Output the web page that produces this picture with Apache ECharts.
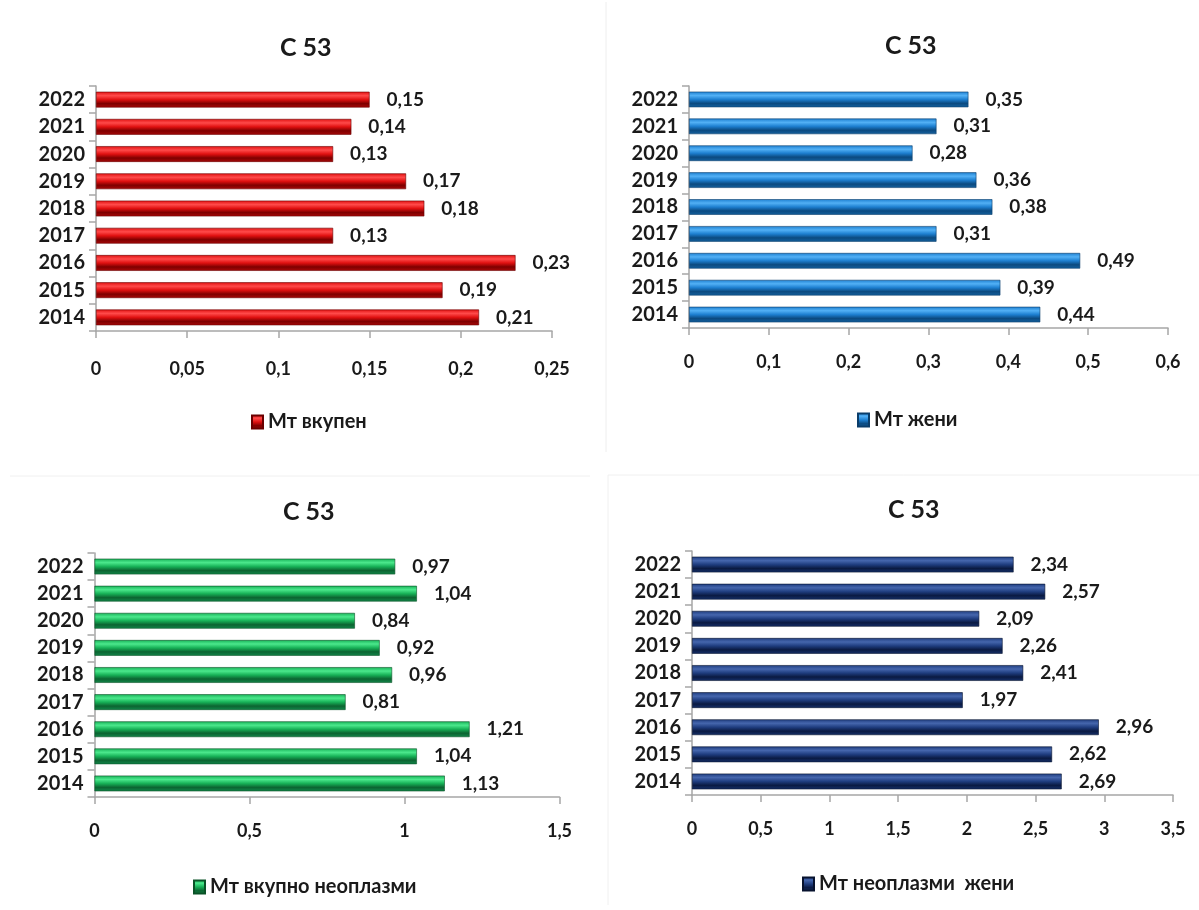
<!DOCTYPE html>
<html>
<head>
<meta charset="utf-8">
<script src="https://cdn.jsdelivr.net/npm/echarts@6/dist/echarts.min.js"></script>
<style>
html,body{margin:0;padding:0;background:#fff;}
#c{width:1199px;height:910px;}
</style>
</head>
<body>
<div id="c"></div>
<script>
const years = ['2014','2015','2016','2017','2018','2019','2020','2021','2022'];
const titleText = 'C 53';
const mtVkupen = [0.21,0.19,0.23,0.13,0.18,0.17,0.13,0.14,0.15];
const mtZheni = [0.44,0.39,0.49,0.31,0.38,0.36,0.28,0.31,0.35];
const mtVkupnoNeoplazmi = [1.13,1.04,1.21,0.81,0.96,0.92,0.84,1.04,0.97];
const mtNeoplazmiZheni = [2.69,2.62,2.96,1.97,2.41,2.26,2.09,2.57,2.34];
const seriesNames = ['Мт вкупен','Мт жени','Мт вкупно неоплазми','Мт неоплазми  жени'];
const axisMax = [0.25, 0.6, 1.5, 3.5];
const axisInterval = [0.05, 0.1, 0.5, 0.5];

const FONT = "Lato, 'Noto Sans', sans-serif";
const TXT = '#1a1a1a';
const fmt = v => String(+(+v).toFixed(3)).replace('.', ',');

function grad(c0, c1, c2, c3) {
  return new echarts.graphic.LinearGradient(0, 0, 0, 1, [
    {offset: 0, color: c0},
    {offset: 0.25, color: c1},
    {offset: 0.5, color: c0},
    {offset: 0.75, color: c2},
    {offset: 1, color: c3}
  ]);
}
const palettes = [
  grad('#e01010', '#ff4a4a', '#7e0000', '#a80808'),
  grad('#1d7fd0', '#52b0f5', '#0b4a80', '#14619f'),
  grad('#17b157', '#4be88c', '#0c6431', '#12874a'),
  grad('#1f3d7f', '#4566ad', '#0a1a42', '#16306a')
];
const edgeColors = ['#6a0000', '#0a3d6a', '#0a5227', '#07122e'];

const grids = [
  {left: 96, top: 86, width: 456, height: 245},
  {left: 689, top: 86, width: 479, height: 242},
  {left: 94.5, top: 553, width: 465, height: 244},
  {left: 692, top: 551, width: 481, height: 244}
];
const titlePos = [[300, 30], [905, 28], [303, 494], [908, 492]];
const legendPos = [[246, 407], [852, 405], [188, 872], [797, 869]];
const tickMargins = [29, 25, 25, 25];
const dataSets = [mtVkupen, mtZheni, mtVkupnoNeoplazmi, mtNeoplazmiZheni];

const option = {
  backgroundColor: '#fff',
  animation: false,
  title: titlePos.map(p => ({
    text: titleText, left: p[0] - 25, top: p[1],
    textStyle: {fontFamily: FONT, fontSize: 25, fontWeight: 'bold', color: TXT}
  })),
  legend: legendPos.map((p, i) => ({
    data: [seriesNames[i]], left: p[0], top: p[1], icon: 'rect',
    itemWidth: 11, itemHeight: 13, itemGap: 6,
    selectedMode: false,
    textStyle: {fontFamily: FONT, fontSize: 20, fontWeight: 'bold', color: TXT}
  })),
  grid: grids,
  xAxis: grids.map((g, i) => ({
    type: 'value', gridIndex: i, min: 0, max: axisMax[i], interval: axisInterval[i],
    axisLine: {show: true, lineStyle: {color: '#a6a6a6', width: 1.5}},
    axisTick: {show: true, length: 7, lineStyle: {color: '#a6a6a6', width: 1.5}},
    splitLine: {show: false},
    axisLabel: {margin: tickMargins[i], formatter: fmt, fontFamily: FONT, fontSize: 18, fontWeight: 'bold', color: TXT}
  })),
  yAxis: grids.map((g, i) => ({
    type: 'category', gridIndex: i, data: years,
    axisLine: {show: true, lineStyle: {color: '#a6a6a6', width: 1.5}},
    axisTick: {show: true, length: 7, lineStyle: {color: '#a6a6a6', width: 1.5}},
    axisLabel: {margin: 11, fontFamily: FONT, fontSize: 20, fontWeight: 'bold', color: TXT}
  })),
  series: dataSets.map((d, i) => ({
    type: 'bar', name: seriesNames[i], xAxisIndex: i, yAxisIndex: i, data: d,
    barCategoryGap: '42%',
    itemStyle: {color: palettes[i], borderColor: edgeColors[i], borderWidth: 0.6},
    label: {show: true, position: 'right', distance: 17, formatter: p => fmt(p.value),
      fontFamily: FONT, fontSize: 19, fontWeight: 'bold', color: TXT}
  })),
  graphic: [
    {type: 'line', shape: {x1: 606, y1: 2, x2: 606, y2: 452}, style: {stroke: '#eeeeee', lineWidth: 1}, silent: true},
    {type: 'line', shape: {x1: 10, y1: 476, x2: 590, y2: 476}, style: {stroke: '#f0f0f0', lineWidth: 1}, silent: true},
    {type: 'line', shape: {x1: 608, y1: 475, x2: 1199, y2: 475}, style: {stroke: '#f0f0f0', lineWidth: 1}, silent: true},
    {type: 'line', shape: {x1: 608, y1: 475, x2: 608, y2: 905}, style: {stroke: '#f0f0f0', lineWidth: 1}, silent: true}
  ]
};
const chart = echarts.init(document.getElementById('c'), null, {renderer: 'canvas'});
chart.setOption(option);
</script>
</body>
</html>
